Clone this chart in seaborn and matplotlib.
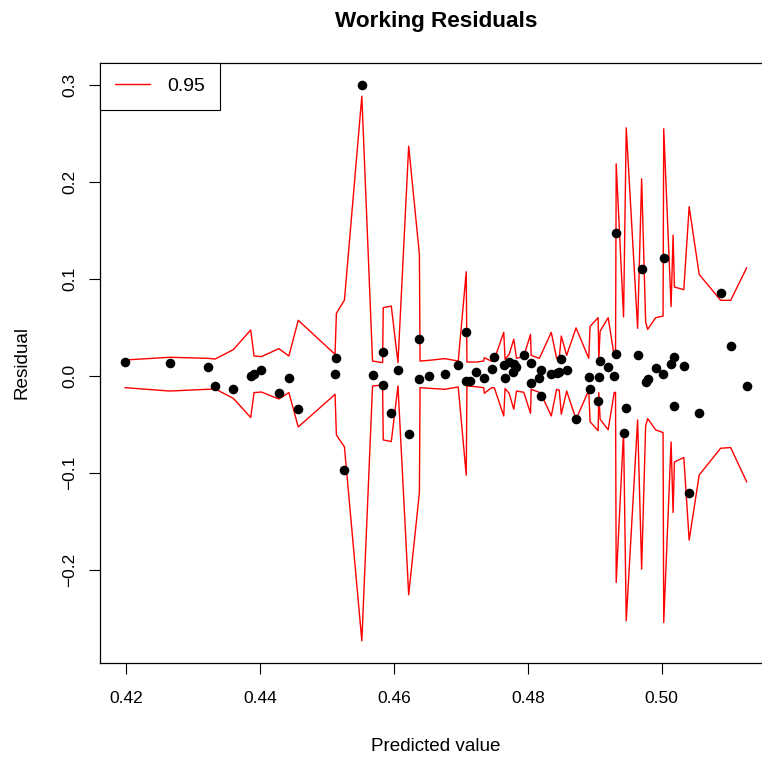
import numpy as np
import pandas as pd
import matplotlib
matplotlib.use("Agg")
import matplotlib.pyplot as plt
import seaborn as sns

# ---- data ----
pred = [0.4198, 0.4265, 0.4322, 0.4333, 0.4360, 0.4386, 0.4391, 0.4402, 0.4428, 0.4443,
        0.4457, 0.4512, 0.4514, 0.4526, 0.4552, 0.4568, 0.4584, 0.4583, 0.4596, 0.4606,
        0.4622, 0.4638, 0.4638, 0.4653, 0.4676, 0.4696, 0.4708, 0.4708, 0.4713, 0.4723,
        0.4734, 0.4746, 0.4750, 0.4764, 0.4766, 0.4772, 0.4778, 0.4779, 0.4783, 0.4794,
        0.4804, 0.4805, 0.4817, 0.4820, 0.4820, 0.4835, 0.4843, 0.4847, 0.4850, 0.4858,
        0.4872, 0.4891, 0.4893, 0.4906, 0.4905, 0.4908, 0.4920, 0.4929, 0.4931, 0.4932,
        0.4947, 0.4943, 0.4964, 0.4970, 0.4976, 0.4979, 0.4991, 0.5002, 0.5003, 0.5014,
        0.5018, 0.5018, 0.5033, 0.5041, 0.5056, 0.5088, 0.5103, 0.5127]
resid = [0.0142, 0.0136, 0.0091, -0.0108, -0.0139, 0.0000, 0.0015, 0.0064, -0.0173, -0.0026,
         -0.0345, 0.0015, 0.0187, -0.0970, 0.2995, 0.0008, 0.0247, -0.0091, -0.0383, 0.0065,
         -0.0595, 0.0376, -0.0036, -0.0002, 0.0019, 0.0108, 0.0456, -0.0054, -0.0051, 0.0036,
         -0.0019, 0.0067, 0.0198, 0.0113, -0.0026, 0.0144, 0.0041, 0.0124, 0.0088, 0.0211,
         0.0136, -0.0077, -0.0026, 0.0057, -0.0208, 0.0021, 0.0029, 0.0036, 0.0170, 0.0057,
         -0.0441, -0.0012, -0.0134, -0.0008, -0.0255, 0.0151, 0.0091, 0.0000, 0.0221, 0.1468,
         -0.0330, -0.0585, 0.0211, 0.1104, -0.0067, -0.0033, 0.0084, 0.0015, 0.1210, 0.0118,
         0.0191, -0.0314, 0.0098, -0.1207, -0.0379, 0.0857, 0.0311, -0.0100]

env_x = [0.4198, 0.4265, 0.4322, 0.4333, 0.4360, 0.4386, 0.4391, 0.4402, 0.4428, 0.4443,
         0.4457, 0.4512, 0.4514, 0.4526, 0.4552, 0.4568, 0.4583, 0.4584, 0.4596, 0.4606,
         0.4622, 0.4638, 0.4639, 0.4653, 0.4676, 0.4696, 0.4708, 0.4709, 0.4723, 0.4734,
         0.4735, 0.4746, 0.4750, 0.4764, 0.4766, 0.4772, 0.4779, 0.4783, 0.4794, 0.4804,
         0.4805, 0.4817, 0.4820, 0.4835, 0.4843, 0.4847, 0.4850, 0.4858, 0.4872, 0.4891,
         0.4893, 0.4905, 0.4906, 0.4908, 0.4920, 0.4929, 0.4931, 0.4932, 0.4943, 0.4947,
         0.4964, 0.4970, 0.4976, 0.4979, 0.4991, 0.5002, 0.5003, 0.5014, 0.5017, 0.5019,
         0.5033, 0.5041, 0.5056, 0.5088, 0.5103, 0.5127]
env_hi = [0.0163, 0.0191, 0.0180, 0.0173, 0.0270, 0.0472, 0.0204, 0.0198, 0.0280, 0.0204,
          0.0572, 0.0221, 0.0644, 0.0781, 0.2882, 0.0152, 0.0136, 0.0702, 0.0719, 0.0136,
          0.2367, 0.1251, 0.0152, 0.0160, 0.0177, 0.0152, 0.1073, 0.0142, 0.0142, 0.0152,
          0.0187, 0.0149, 0.0170, 0.0448, 0.0170, 0.0221, 0.0376, 0.0180, 0.0201, 0.0427,
          0.0211, 0.0180, 0.0221, 0.0448, 0.0180, 0.0191, 0.0410, 0.0211, 0.0494, 0.0180,
          0.0510, 0.0599, 0.0170, 0.0461, 0.0599, 0.0204, 0.0210, 0.2185, 0.0606, 0.2556,
          0.0489, 0.2031, 0.0554, 0.0479, 0.0599, 0.0616, 0.2546, 0.0713, 0.1450, 0.0915,
          0.0888, 0.1743, 0.1045, 0.0778, 0.0778, 0.1114]
env_lo = [-0.0122, -0.0157, -0.0139, -0.0136, -0.0232, -0.0430, -0.0173, -0.0167, -0.0239, -0.0173,
          -0.0527, -0.0191, -0.0610, -0.0733, -0.2731, -0.0105, -0.0095, -0.0661, -0.0678, -0.0105,
          -0.2257, -0.1203, -0.0122, -0.0129, -0.0139, -0.0115, -0.1025, -0.0105, -0.0113, -0.0122,
          -0.0180, -0.0122, -0.0124, -0.0414, -0.0132, -0.0180, -0.0345, -0.0157, -0.0170, -0.0386,
          -0.0139, -0.0170, -0.0191, -0.0414, -0.0139, -0.0149, -0.0396, -0.0157, -0.0448, -0.0149,
          -0.0474, -0.0566, -0.0173, -0.0448, -0.0556, -0.0173, -0.0170, -0.2130, -0.0575, -0.2525,
          -0.0455, -0.1993, -0.0517, -0.0441, -0.0558, -0.0585, -0.2542, -0.0682, -0.1409, -0.0888,
          -0.0842, -0.1694, -0.1022, -0.0747, -0.0739, -0.1094]

x_ticks = [0.42, 0.44, 0.46, 0.48, 0.50]
x_tick_labels = ["0.42", "0.44", "0.46", "0.48", "0.50"]
y_ticks = [-0.2, -0.1, 0.0, 0.1, 0.2, 0.3]
y_tick_labels = ["\u22120.2", "\u22120.1", "0.0", "0.1", "0.2", "0.3"]
legend_label = "0.95"

# ---- figure ----
sns.set_style("white")
plt.rcParams["font.family"] = ["Liberation Sans", "DejaVu Sans"]
plt.rcParams["text.color"] = "black"
plt.rcParams["axes.labelcolor"] = "black"

W, H = 762, 759
fig = plt.figure(figsize=(W / 100, H / 100), dpi=100)
left_px, right_px, top_px, bottom_px = 100, 771.6, 63, 663
ax = fig.add_axes([left_px / W, 1 - bottom_px / H,
                   (right_px - left_px) / W, (bottom_px - top_px) / H])

pts = pd.DataFrame({"pred": pred, "resid": resid})
env = pd.DataFrame({"x": env_x, "hi": env_hi, "lo": env_lo})

sns.lineplot(data=env, x="x", y="hi", color="red", lw=1.0, sort=False,
             estimator=None, ax=ax, label=legend_label)
sns.lineplot(data=env, x="x", y="lo", color="red", lw=1.0, sort=False,
             estimator=None, ax=ax)
sns.scatterplot(data=pts, x="pred", y="resid", color="black", s=48,
                linewidth=0, ax=ax, zorder=3)

# R-style 4% axis extension
xmin, xmax = min(min(pred), min(env_x)), max(max(pred), max(env_x))
ymin, ymax = min(min(resid), min(env_lo)), max(max(resid), max(env_hi))
dx, dy = (xmax - xmin) * 0.04, (ymax - ymin) * 0.04
ax.set_xlim(xmin - dx, xmax + dx)
ax.set_ylim(ymin - dy, ymax + dy)

ax.set_xticks(x_ticks)
ax.set_xticklabels(x_tick_labels)
ax.set_yticks(y_ticks)
ax.set_yticklabels(y_tick_labels, rotation=90, va="center")

fs = 12.5
ax.tick_params(axis="both", direction="out", length=8, width=0.8,
               color="black", labelsize=fs, labelcolor="black",
               bottom=True, left=True, top=False, right=False)
ax.tick_params(axis="x", pad=12)
ax.tick_params(axis="y", pad=8.6)

for sp in ax.spines.values():
    sp.set_visible(True)
    sp.set_color("black")
    sp.set_linewidth(0.9)

ax.set_title("Working Residuals", fontsize=16.2, fontweight="bold", pad=26,
             color="black")
ax.set_xlabel("Predicted value", fontsize=13.6)
ax.set_ylabel("Residual", fontsize=13.6)
ax.xaxis.set_label_coords(0.5, -0.125)
ax.yaxis.set_label_coords(-0.104, 0.5)

leg = ax.legend(loc="upper left", bbox_to_anchor=(0, 1), borderaxespad=0,
                fontsize=14, frameon=True, fancybox=False, borderpad=0.75,
                handlelength=1.8, handletextpad=0.93)
leg.get_frame().set_edgecolor("black")
leg.get_frame().set_linewidth(0.8)
leg.get_frame().set_alpha(1)

fig.savefig("out.png", dpi=100)
